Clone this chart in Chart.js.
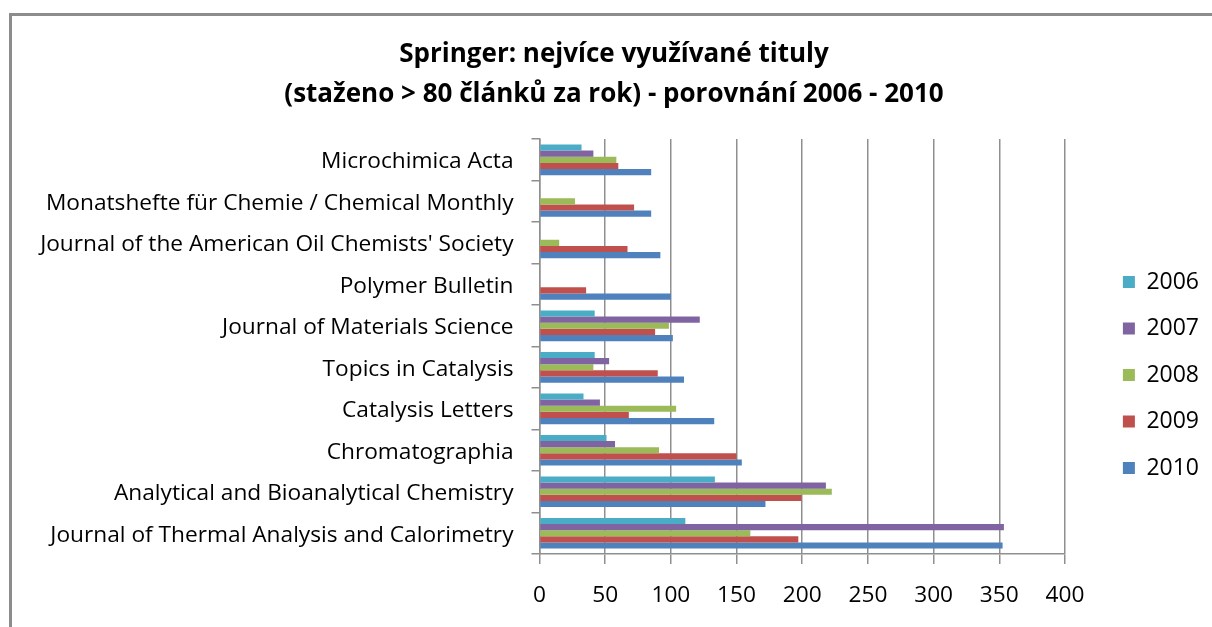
<!DOCTYPE html>
<html>
<head>
<meta charset="utf-8">
<script src="https://cdn.jsdelivr.net/npm/chart.js@4"></script>
<style>
  html, body { margin: 0; padding: 0; background: #ffffff; overflow: hidden; }
  #frame { position: absolute; left: 9px; top: 13px; width: 1400px; height: 800px; border: 3px solid #8c8c8c; box-sizing: border-box; }
  #wrap { position: absolute; left: 0; top: 0; width: 1212px; height: 627px; }
</style>
</head>
<body>
<div id="frame"></div>
<div id="wrap"><canvas id="c" width="1212" height="627"></canvas></div>
<script>
const categories = [
  "Microchimica Acta",
  "Monatshefte für Chemie / Chemical Monthly",
  "Journal of the American Oil Chemists' Society",
  "Polymer Bulletin",
  "Journal of Materials Science",
  "Topics in Catalysis",
  "Catalysis Letters",
  "Chromatographia",
  "Analytical and Bioanalytical Chemistry",
  "Journal of Thermal Analysis and Calorimetry"
];
const years = ["2006", "2007", "2008", "2009", "2010"];
const values2006 = [32, null, null, null, 42, 42, 33.5, 51, 133.5, 111];
const values2007 = [41, null, null, null, 122, 53, 46, 57.5, 218, 353.5];
const values2008 = [58.5, 27, 15, null, 98.5, 41, 104, 91, 222.5, 160.5];
const values2009 = [60, 72, 67, 35.5, 88, 90, 68, 150, 199.5, 197];
const values2010 = [85, 85, 92, 100, 101.5, 110, 133, 154, 172, 352.5];
const xTicks = [0, 50, 100, 150, 200, 250, 300, 350, 400];
const titleLines = ["Springer: nejvíce využívané tituly", "(staženo > 80 článků za rok) - porovnání 2006 - 2010"];

const colors = ["#4BACC6", "#8064A2", "#9BBB59", "#C0504D", "#4F81BD"];
const seriesValues = [values2006, values2007, values2008, values2009, values2010];

const FONT = 'Open Sans';
const PAD_L = 19, PAD_R = 3;
const ctx = document.getElementById('c');
new Chart(ctx, {
  type: 'bar',
  data: {
    labels: categories,
    datasets: years.map((y, i) => ({
      label: y,
      data: seriesValues[i],
      backgroundColor: colors[i],
      borderWidth: 0,
      categoryPercentage: 0.74,
      barPercentage: 1.0
    }))
  },
  options: {
    indexAxis: 'y',
    responsive: false,
    animation: false,
    layout: { padding: { left: PAD_L, right: PAD_R, top: 0, bottom: 0 } },
    plugins: {
      title: {
        display: true,
        text: titleLines,
        color: '#000',
        font: { family: FONT, size: 26, weight: 'bold', lineHeight: 1.54 },
        padding: { top: 35, bottom: 24 }
      },
      legend: {
        position: 'right',
        align: 'center',
        title: { display: true, text: ' ', padding: { top: 108.6, bottom: 0 }, font: { size: 12 } },
        labels: {
          boxWidth: 12, boxHeight: 12, padding: 23.5,
          color: '#000',
          font: { family: FONT, size: 23 }
        }
      },
      tooltip: { enabled: false }
    },
    scales: {
      x: {
        min: 0, max: 400,
        afterBuildTicks: (s) => { s.ticks = xTicks.map(v => ({ value: v })); },
        afterFit: (s) => { s.height = 73; },
        ticks: { color: '#000', font: { family: FONT, size: 22.7 }, padding: 18 },
        grid: { color: '#8f8f8f', lineWidth: 1.5, tickLength: 10, drawTicks: true },
        border: { display: true, color: '#8f8f8f', width: 1.5 }
      },
      y: {
        afterFit: (s) => { s.width = 539.5 - PAD_L; },
        ticks: { color: '#000', font: { family: FONT, size: 22.7 }, padding: 18, autoSkip: false, labelOffset: 2 },
        grid: { drawOnChartArea: false, color: '#8f8f8f', lineWidth: 1.5, tickLength: 8, offset: true },
        border: { display: true, color: '#8f8f8f', width: 1.5 }
      },
      y2: {
        position: 'right',
        type: 'category',
        labels: categories,
        afterFit: (s) => { s.width = 34.4; },
        ticks: { display: false },
        grid: { display: false, drawTicks: false },
        border: { display: false }
      }
    }
  }
});
</script>
</body>
</html>
